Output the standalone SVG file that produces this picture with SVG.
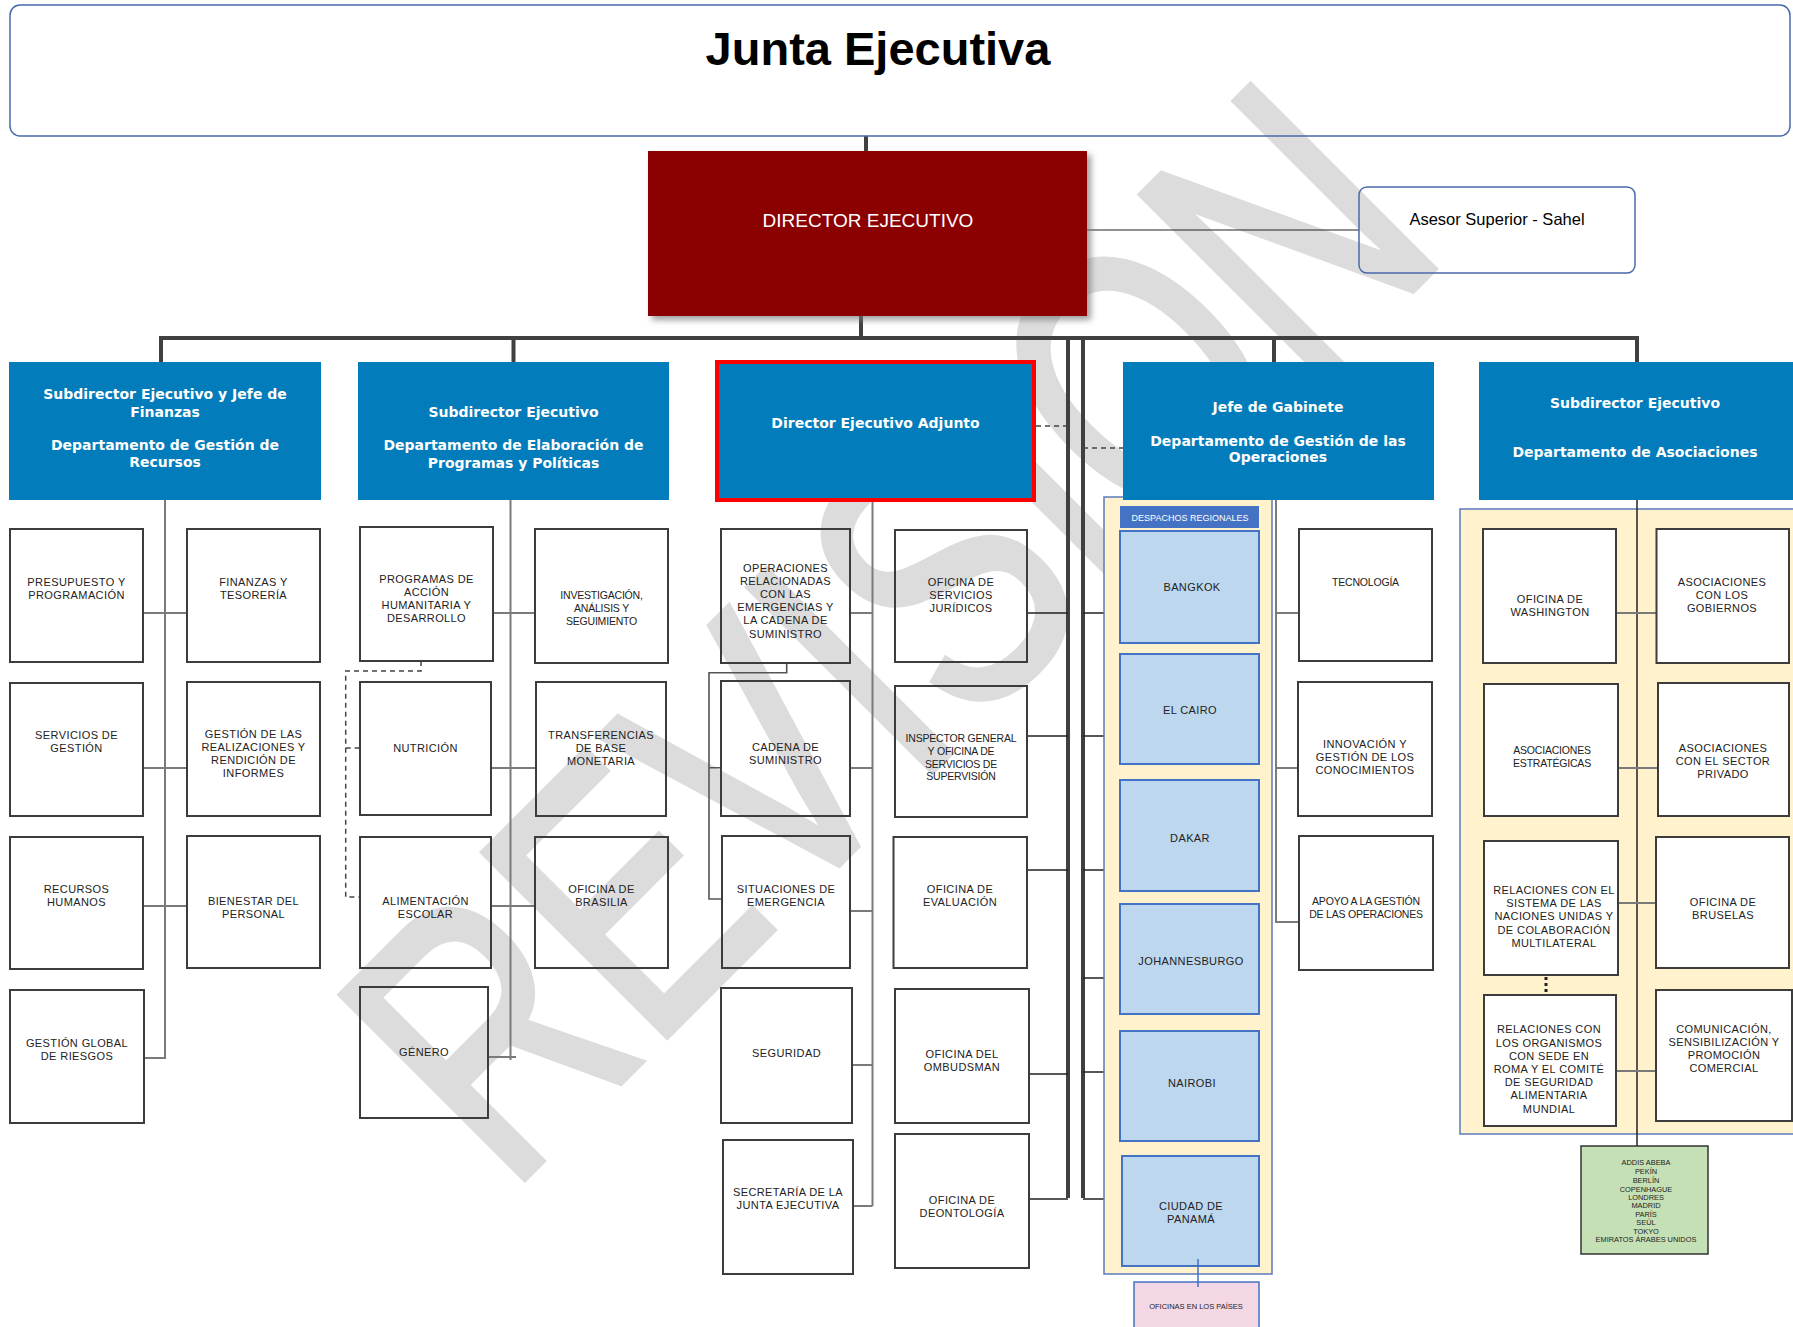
<svg xmlns="http://www.w3.org/2000/svg" width="1793" height="1327" viewBox="0 0 1793 1327">
<defs>
<filter id="sh" x="-5%" y="-5%" width="115%" height="120%"><feDropShadow dx="4" dy="4" stdDeviation="3" flood-color="#777" flood-opacity="0.7"/></filter>
<style>
.bx{fill:none;stroke:#3c3c3c;stroke-width:2}
.bw{fill:#fff;stroke:#3c3c3c;stroke-width:2}
.hd{fill:#027CBA}
.ht{font-family:"DejaVu Sans",sans-serif;font-weight:bold;font-size:14px;fill:#fff;text-anchor:middle}
.t{font-family:"Liberation Sans",Arial,sans-serif;font-size:11px;letter-spacing:0.4px;fill:#222;text-anchor:middle}
.tc{font-family:"Liberation Sans",Arial,sans-serif;font-size:10.5px;letter-spacing:-0.2px;fill:#222;text-anchor:middle}
.cg{fill:none;stroke:#7a7a7a;stroke-width:2}
.cb{fill:none;stroke:#222;stroke-width:1.6}
.thick{fill:none;stroke:#404040;stroke-width:4}
.dash{fill:none;stroke:#444;stroke-width:1.5;stroke-dasharray:5 4}
.reg{fill:#BDD7EE;stroke:#4472C4;stroke-width:2}
.yel{fill:#FFF2CC;stroke:#5b7bbd;stroke-width:1.5}
.gt{font-family:"Liberation Sans",Arial,sans-serif;font-size:7.4px;fill:#222;text-anchor:middle}
</style>
</defs>
<rect width="1793" height="1327" fill="#fff"/>

<g id="watermark"><text transform="translate(508,1195) rotate(-45) scale(0.74,1)" font-family="'Liberation Sans',Arial,sans-serif" font-size="377" fill="#dcdcdc" stroke="#dcdcdc" stroke-width="7" stroke-linejoin="miter">REVISION</text></g>

<g id="connectors">
<path class="thick" d="M866 136V151" stroke-width="3"/>
<path class="thick" d="M861 316V338" stroke-width="3"/>
<path class="thick" d="M161 362V338H1637V362"/>
<path class="thick" d="M513.5 338V362" stroke-width="3"/>
<path class="thick" d="M1274 338V362"/>
<path class="thick" d="M1068 338V1198" stroke-width="3.5"/>
<path class="thick" d="M1083 338V1198" stroke-width="3.5"/>
<path fill="none" stroke="#222" stroke-width="1.2" d="M1087 230H1359"/>
<path class="dash" d="M1036 426H1068M1083 448H1123"/>
<path class="cg" d="M165 500V1058H144M143 613H187M143 768H187M143 906H187"/>
<path class="cg" d="M510.5 500V1060M493 613H535M491 768H536M491 906H535M488 1057H516"/>
<path class="dash" d="M421 661V671H345.7V897H360M345.7 748H360"/>
<path class="cg" d="M872.5 502V1206M850 613H872.5M850 768H872.5M850 911H872.5M852 1065H872.5M853 1206H872.5"/>
<path fill="none" stroke="#555" stroke-width="1.6" d="M786.7 663V672.7H709V899H722M709 767.7H721"/>
<path class="cb" d="M1027 613H1068M1027 736H1068M1027 870H1068M1029 1074H1068M1029 1199H1068"/>
<path class="cb" d="M1083 613H1120M1083 736H1120M1083 870H1120M1083 978H1120M1083 1072H1120M1083 1199H1122"/>
<path class="cg" d="M1276 500V922H1299M1276 613H1299M1276 768H1298"/>
</g>

<g id="junta"><rect x="10" y="5" width="1780" height="131" rx="10" fill="none" stroke="#4a68ad" stroke-width="1.5"/>
<text x="878" y="65" font-family="'Liberation Sans',Arial,sans-serif" font-weight="bold" font-size="47" text-anchor="middle" fill="#000">Junta Ejecutiva</text></g>

<g id="director"><rect x="648" y="151" width="439" height="165" fill="#8B0000" filter="url(#sh)"/>
<text x="868" y="227" font-family="'Liberation Sans',Arial,sans-serif" font-size="19" text-anchor="middle" fill="#fff">DIRECTOR EJECUTIVO</text></g>

<g id="asesor"><rect x="1359" y="187" width="276" height="86" rx="8" fill="none" stroke="#4a68ad" stroke-width="1.5"/>
<text x="1497" y="225" font-family="'Liberation Sans',Arial,sans-serif" font-size="16.5" text-anchor="middle" fill="#000">Asesor Superior - Sahel</text></g>

<g id="regional-container"><rect class="yel" x="1104" y="497" width="168" height="777"/></g>
<g id="asoc-container"><rect class="yel" x="1460" y="509" width="340" height="625"/></g>
<g id="asoc-connectors">
<path fill="none" stroke="#222" stroke-width="1.5" d="M1637 500V1146"/>
<path class="cg" d="M1616 613H1656M1618 768H1658M1618 903H1656M1616 1071H1656"/>
<path fill="none" stroke="#222" stroke-width="3" stroke-dasharray="3 3" d="M1546 977V995"/>
</g>

<g id="h1"><rect class="hd" x="9" y="362" width="312" height="138"/>
<text class="ht" x="165" y="399">Subdirector  Ejecutivo y Jefe de</text>
<text class="ht" x="165" y="417">Finanzas</text>
<text class="ht" x="165" y="450">Departamento  de Gestión de</text>
<text class="ht" x="165" y="467">Recursos</text></g>
<g id="h2"><rect class="hd" x="358" y="362" width="311" height="138"/>
<text class="ht" x="513.5" y="417">Subdirector  Ejecutivo</text>
<text class="ht" x="513.5" y="450">Departamento  de Elaboración de</text>
<text class="ht" x="513.5" y="468">Programas y Políticas</text></g>
<g id="h3"><rect class="hd" x="717" y="362" width="317" height="138" stroke="#f00" stroke-width="4"/>
<text class="ht" x="875.5" y="428">Director  Ejecutivo Adjunto</text></g>
<g id="h4"><rect class="hd" x="1123" y="362" width="311" height="138"/>
<text class="ht" x="1278" y="412">Jefe de Gabinete</text>
<text class="ht" x="1278" y="446">Departamento  de Gestión de las</text>
<text class="ht" x="1278" y="462">Operaciones</text></g>
<g id="h5"><rect class="hd" x="1479" y="362" width="314" height="138"/>
<text class="ht" x="1635" y="408">Subdirector  Ejecutivo</text>
<text class="ht" x="1635" y="457">Departamento  de Asociaciones</text></g>

<g id="a1"><rect class="bx" x="10" y="529" width="133" height="133"/><text class="t" x="76.5" y="586">PRESUPUESTO Y</text><text class="t" x="76.5" y="599">PROGRAMACIÓN</text></g>
<g id="a2"><rect class="bx" x="187" y="529" width="133" height="133"/><text class="t" x="253.5" y="586">FINANZAS Y</text><text class="t" x="253.5" y="599">TESORERÍA</text></g>
<g id="a3"><rect class="bx" x="10" y="683" width="133" height="133"/><text class="t" x="76.5" y="739">SERVICIOS DE</text><text class="t" x="76.5" y="752">GESTIÓN</text></g>
<g id="a4"><rect class="bx" x="187" y="682" width="133" height="134"/><text class="t" x="253.5" y="738">GESTIÓN DE LAS</text><text class="t" x="253.5" y="751">REALIZACIONES Y</text><text class="t" x="253.5" y="764">RENDICIÓN DE</text><text class="t" x="253.5" y="777">INFORMES</text></g>
<g id="a5"><rect class="bx" x="10" y="837" width="133" height="132"/><text class="t" x="76.5" y="893">RECURSOS</text><text class="t" x="76.5" y="906">HUMANOS</text></g>
<g id="a6"><rect class="bx" x="187" y="836" width="133" height="132"/><text class="t" x="253.5" y="905">BIENESTAR DEL</text><text class="t" x="253.5" y="918">PERSONAL</text></g>
<g id="a7"><rect class="bx" x="10" y="990" width="134" height="133"/><text class="t" x="77" y="1047">GESTIÓN GLOBAL</text><text class="t" x="77" y="1060">DE RIESGOS</text></g>

<g id="b1"><rect class="bx" x="360" y="527" width="133" height="134"/><text class="t" x="426.5" y="583">PROGRAMAS DE</text><text class="t" x="426.5" y="596">ACCIÓN</text><text class="t" x="426.5" y="609">HUMANITARIA Y</text><text class="t" x="426.5" y="622">DESARROLLO</text></g>
<g id="b2"><rect class="bx" x="535" y="529" width="133" height="134"/><text class="tc" x="601.5" y="599">INVESTIGACIÓN,</text><text class="tc" x="601.5" y="612">ANÁLISIS Y</text><text class="tc" x="601.5" y="625">SEGUIMIENTO</text></g>
<g id="b3"><rect class="bx" x="360" y="682" width="131" height="133"/><text class="t" x="425.5" y="752">NUTRICIÓN</text></g>
<g id="b4"><rect class="bx" x="536" y="682" width="130" height="134"/><text class="t" x="601" y="739">TRANSFERENCIAS</text><text class="t" x="601" y="752">DE BASE</text><text class="t" x="601" y="765">MONETARIA</text></g>
<g id="b5"><rect class="bx" x="360" y="837" width="131" height="131"/><text class="t" x="425.5" y="905">ALIMENTACIÓN</text><text class="t" x="425.5" y="918">ESCOLAR</text></g>
<g id="b6"><rect class="bx" x="535" y="837" width="133" height="131"/><text class="t" x="601.5" y="893">OFICINA DE</text><text class="t" x="601.5" y="906">BRASILIA</text></g>
<g id="b7"><rect class="bx" x="360" y="987" width="128" height="131"/><text class="t" x="424" y="1056">GÉNERO</text></g>

<g id="c1"><rect class="bx" x="721" y="529" width="129" height="134"/><text class="t" x="785.5" y="572">OPERACIONES</text><text class="t" x="785.5" y="585">RELACIONADAS</text><text class="t" x="785.5" y="598">CON LAS</text><text class="t" x="785.5" y="611">EMERGENCIAS Y</text><text class="t" x="785.5" y="624">LA CADENA DE</text><text class="t" x="785.5" y="638">SUMINISTRO</text></g>
<g id="c2"><rect class="bx" x="721" y="681" width="129" height="135"/><text class="t" x="785.5" y="751">CADENA DE</text><text class="t" x="785.5" y="764">SUMINISTRO</text></g>
<g id="c3"><rect class="bx" x="722" y="836" width="128" height="132"/><text class="t" x="786" y="893">SITUACIONES DE</text><text class="t" x="786" y="906">EMERGENCIA</text></g>
<g id="c4"><rect class="bx" x="721" y="988" width="131" height="135"/><text class="t" x="786.5" y="1057">SEGURIDAD</text></g>
<g id="c5"><rect class="bx" x="723" y="1140" width="130" height="134"/><text class="t" x="788" y="1196">SECRETARÍA DE LA</text><text class="t" x="788" y="1209">JUNTA EJECUTIVA</text></g>
<g id="c6"><rect class="bx" x="895" y="530" width="132" height="132"/><text class="t" x="961" y="586">OFICINA DE</text><text class="t" x="961" y="599">SERVICIOS</text><text class="t" x="961" y="612">JURÍDICOS</text></g>
<g id="c7"><rect class="bx" x="895" y="686" width="132" height="131"/><text class="tc" x="961" y="742">INSPECTOR GENERAL</text><text class="tc" x="961" y="755">Y OFICINA DE</text><text class="tc" x="961" y="768">SERVICIOS DE</text><text class="tc" x="961" y="780">SUPERVISIÓN</text></g>
<g id="c8"><rect class="bx" x="893.5" y="837" width="133.5" height="131"/><text class="t" x="960" y="893">OFICINA DE</text><text class="t" x="960" y="906">EVALUACIÓN</text></g>
<g id="c9"><rect class="bx" x="895" y="989" width="134" height="134"/><text class="t" x="962" y="1058">OFICINA DEL</text><text class="t" x="962" y="1071">OMBUDSMAN</text></g>
<g id="c10"><rect class="bx" x="895" y="1134" width="134" height="134"/><text class="t" x="962" y="1204">OFICINA DE</text><text class="t" x="962" y="1217">DEONTOLOGÍA</text></g>

<g id="despachos"><rect x="1120" y="506" width="139" height="22" fill="#4472C4"/><text x="1190" y="521" font-family="'Liberation Sans',Arial,sans-serif" font-size="9" fill="#fff" text-anchor="middle">DESPACHOS REGIONALES</text></g>
<g id="r1"><rect class="reg" x="1120" y="531" width="139" height="112"/><text class="t" x="1192" y="591">BANGKOK</text></g>
<g id="r2"><rect class="reg" x="1120" y="654" width="139" height="110"/><text class="t" x="1190" y="714">EL CAIRO</text></g>
<g id="r3"><rect class="reg" x="1120" y="780" width="139" height="111"/><text class="t" x="1190" y="842">DAKAR</text></g>
<g id="r4"><rect class="reg" x="1120" y="904" width="139" height="110"/><text class="t" x="1191" y="965">JOHANNESBURGO</text></g>
<g id="r5"><rect class="reg" x="1120" y="1031" width="139" height="110"/><text class="t" x="1192" y="1087">NAIROBI</text></g>
<g id="r6"><rect class="reg" x="1122" y="1156" width="137" height="110"/><text class="t" x="1191" y="1210">CIUDAD DE</text><text class="t" x="1191" y="1223">PANAMÁ</text></g>
<g id="paises"><rect x="1134" y="1282" width="125" height="52" fill="#F4D7E5" stroke="#4472C4" stroke-width="1.5"/><text x="1196" y="1309" font-family="'Liberation Sans',Arial,sans-serif" font-size="7.5" fill="#222" text-anchor="middle">OFICINAS EN LOS PAÍSES</text></g>
<path fill="none" stroke="#4472C4" stroke-width="1.5" d="M1198 1259V1287"/>

<g id="e1"><rect class="bx" x="1299" y="529" width="133" height="132"/><text class="tc" x="1365.5" y="586">TECNOLOGÍA</text></g>
<g id="e2"><rect class="bx" x="1298" y="682" width="134" height="134"/><text class="t" x="1365" y="748">INNOVACIÓN Y</text><text class="t" x="1365" y="761">GESTIÓN DE LOS</text><text class="t" x="1365" y="774">CONOCIMIENTOS</text></g>
<g id="e3"><rect class="bx" x="1299" y="836" width="134" height="134"/><text class="tc" x="1366" y="905">APOYO A LA GESTIÓN</text><text class="tc" x="1366" y="918">DE LAS OPERACIONES</text></g>

<g id="f1"><rect class="bw" x="1483" y="529" width="133" height="134"/><text class="t" x="1550" y="603">OFICINA DE</text><text class="t" x="1550" y="616">WASHINGTON</text></g>
<g id="f2"><rect class="bw" x="1656.5" y="529" width="132.5" height="134"/><text class="t" x="1722" y="586">ASOCIACIONES</text><text class="t" x="1722" y="599">CON LOS</text><text class="t" x="1722" y="612">GOBIERNOS</text></g>
<g id="f3"><rect class="bw" x="1484" y="684" width="134" height="132"/><text class="tc" x="1552" y="754">ASOCIACIONES</text><text class="tc" x="1552" y="767">ESTRATÉGICAS</text></g>
<g id="f4"><rect class="bw" x="1658" y="683" width="131" height="133"/><text class="t" x="1723" y="752">ASOCIACIONES</text><text class="t" x="1723" y="765">CON EL SECTOR</text><text class="t" x="1723" y="778">PRIVADO</text></g>
<g id="f5"><rect class="bw" x="1484" y="841" width="134" height="134"/><text class="t" x="1554" y="894">RELACIONES CON EL</text><text class="t" x="1554" y="907">SISTEMA DE LAS</text><text class="t" x="1554" y="920">NACIONES UNIDAS Y</text><text class="t" x="1554" y="934">DE COLABORACIÓN</text><text class="t" x="1554" y="947">MULTILATERAL</text></g>
<g id="f6"><rect class="bw" x="1656" y="837" width="133" height="131"/><text class="t" x="1723" y="906">OFICINA DE</text><text class="t" x="1723" y="919">BRUSELAS</text></g>
<g id="f7"><rect class="bw" x="1484" y="995" width="132" height="131"/><text class="t" x="1549" y="1033">RELACIONES CON</text><text class="t" x="1549" y="1047">LOS ORGANISMOS</text><text class="t" x="1549" y="1060">CON SEDE EN</text><text class="t" x="1549" y="1073">ROMA Y EL COMITÉ</text><text class="t" x="1549" y="1086">DE SEGURIDAD</text><text class="t" x="1549" y="1099">ALIMENTARIA</text><text class="t" x="1549" y="1113">MUNDIAL</text></g>
<g id="f8"><rect class="bw" x="1656" y="990" width="136" height="131"/><text class="t" x="1724" y="1033">COMUNICACIÓN,</text><text class="t" x="1724" y="1046">SENSIBILIZACIÓN Y</text><text class="t" x="1724" y="1059">PROMOCIÓN</text><text class="t" x="1724" y="1072">COMERCIAL</text></g>
<g id="green"><rect x="1581" y="1146" width="127" height="108" fill="#C5E0B4" stroke="#333" stroke-width="1.5"/>
<text class="gt" x="1646" y="1165">ADDIS ABEBA</text><text class="gt" x="1646" y="1174">PEKÍN</text><text class="gt" x="1646" y="1183">BERLÍN</text><text class="gt" x="1646" y="1192">COPENHAGUE</text><text class="gt" x="1646" y="1200">LONDRES</text><text class="gt" x="1646" y="1208">MADRID</text><text class="gt" x="1646" y="1217">PARÍS</text><text class="gt" x="1646" y="1225">SEÚL</text><text class="gt" x="1646" y="1234">TOKYO</text><text class="gt" x="1646" y="1242">EMIRATOS ÁRABES UNIDOS</text></g>
</svg>
